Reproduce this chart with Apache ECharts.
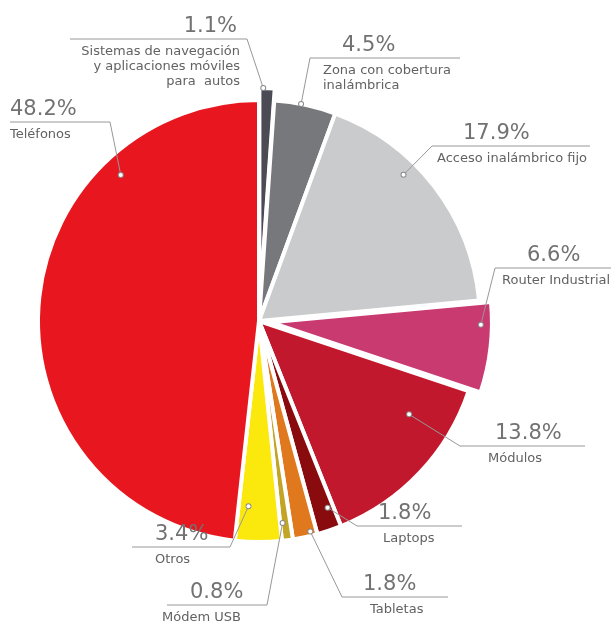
<!DOCTYPE html>
<html><head><meta charset="utf-8">
<script src="https://cdn.jsdelivr.net/npm/echarts@6/dist/echarts.min.js"></script>
<style>html,body{margin:0;padding:0;background:#fff}#c{width:611px;height:626px}</style>
</head><body><div id="c"></div>
<script>
// ---- data ----
const categories = [
  'Sistemas de navegación\ny aplicaciones móviles\npara  autos',
  'Zona con cobertura\ninalámbrica',
  'Acceso inalámbrico fijo',
  'Router Industrial',
  'Módulos',
  'Laptops',
  'Tabletas',
  'Módem USB',
  'Otros',
  'Teléfonos'
];
const shares = [1.1, 4.5, 17.9, 6.6, 13.8, 1.8, 1.8, 0.8, 3.4, 48.2];

// ---- styles ----
const colors = ['#4a4b54', '#77787c', '#cacbcd', '#c83a70', '#c1182d', '#8a0b0e', '#e0781e', '#c2a525', '#fbe90d', '#e8171f'];
const exploded = [true, false, false, true, false, false, false, false, false, false];
const dotRadius = [1.0, 1.0, 0.93, 0.95, 0.8, 0.9, 0.98, 0.92, 0.84, 0.91];
// label placement: elbowX, elbowY, lineEndX, pctX, nameX, align
const labelSpots = [
  [247, 39, 70, 237, 240, 'right'],
  [310, 58, 460, 342, 323, 'left'],
  [432, 146, 590, 463, 437, 'left'],
  [495, 268, 611, 527, 502, 'left'],
  [460, 446, 585, 495, 488, 'left'],
  [357, 526, 462, 378, 383, 'left'],
  [342, 597, 448, 363, 370, 'left'],
  [267, 605, 167, 190, 162, 'left'],
  [230, 547, 132, 155, 155, 'left'],
  [110, 122, 10, 10, 10, 'left']
];
const CX = 259, CY = 321, R = 221, OFFSET = 12;
const PCT_LH = 24, GAP_LH = 5;

const rich = { s: { fontSize: 1, lineHeight: GAP_LH } };
labelSpots.forEach((s, i) => {
  const [ex, ey, lx, px, nx, al] = s;
  const base = { fontFamily: 'DejaVu Sans' };
  const pct = { fontSize: 21, lineHeight: PCT_LH, color: '#727272' };
  const nm = { fontSize: 13, lineHeight: 15, color: '#626262' };
  if (al === 'left') {
    const x0 = Math.min(px, nx);
    rich['p' + i] = Object.assign({}, base, pct, { padding: [0, 0, 0, px - x0] });
    rich['n' + i] = Object.assign({}, base, nm, { padding: [0, 0, 0, nx - x0] });
  } else {
    const x0 = Math.max(px, nx);
    rich['p' + i] = Object.assign({}, base, pct, { align: 'right', padding: [0, x0 - px, 0, 0] });
    rich['n' + i] = Object.assign({}, base, nm, { align: 'right', padding: [0, x0 - nx, 0, 0] });
  }
});

const data = categories.map((c, i) => ({ name: c, value: shares[i], selected: exploded[i], itemStyle: { color: colors[i] } }));
const ghost = categories.map((c, i) => ({ name: c, value: shares[i] }));

const chart = echarts.init(document.getElementById('c'));

// anchor point of the leader line inside a slice, from the library's pie layout
function anchorOf(i) {
  let s, e, cx = CX, cy = CY, r = R;
  try {
    const lay = chart.getModel().getSeriesByIndex(0).getData().getItemLayout(i);
    s = lay.startAngle; e = lay.endAngle; cx = lay.cx; cy = lay.cy; r = lay.r;
  } catch (err) {
    const tot = shares.reduce((a, b) => a + b, 0);
    let acc = 0; for (let k = 0; k < i; k++) acc += shares[k];
    s = -Math.PI / 2 + acc / tot * 2 * Math.PI; e = s + shares[i] / tot * 2 * Math.PI;
  }
  if (e < s) { const t = s; s = e; e = t; }
  const [ex, ey] = labelSpots[i];
  let a = Math.atan2(ey - cy, ex - cx);
  while (a < s) a += 2 * Math.PI;
  while (a >= s + 2 * Math.PI) a -= 2 * Math.PI;
  const m = 0.25 * (e - s);
  if (a > e) { a = (a - e) < (s + 2 * Math.PI - a) ? e : s; }
  a = Math.min(Math.max(a, s + m), e - m);
  const rr = r * dotRadius[i];
  let x = cx + rr * Math.cos(a), y = cy + rr * Math.sin(a);
  if (exploded[i]) {
    const mid = (s + e) / 2;
    x += OFFSET * Math.cos(mid); y += OFFSET * Math.sin(mid);
  }
  return [x, y];
}

chart.setOption({
  animation: false,
  backgroundColor: '#fff',
  series: [
    {
      type: 'pie',
      z: 2,
      center: [CX, CY],
      radius: [0, R],
      startAngle: 90,
      clockwise: true,
      selectedMode: 'multiple',
      selectedOffset: OFFSET,
      itemStyle: { borderColor: '#fff', borderWidth: 4 },
      select: { itemStyle: { borderColor: '#fff', borderWidth: 4 } },
      emphasis: { disabled: true },
      label: { show: false },
      labelLine: { show: false },
      data: data
    },
    {
      type: 'pie',
      silent: true,
      z: 3,
      center: [CX, CY],
      radius: [0, R],
      startAngle: 90,
      clockwise: true,
      avoidLabelOverlap: false,
      itemStyle: { color: 'rgba(0,0,0,0)', borderWidth: 0 },
      emphasis: { disabled: true },
      label: {
        show: true,
        position: 'outside',
        rich: rich,
        formatter: function (p) {
          const i = p.dataIndex;
          const lines = categories[i].split('\n');
          return '{p' + i + '|' + shares[i].toFixed(1) + '%}\n{s| }\n' + lines.map(l => '{n' + i + '|' + l + '}').join('\n');
        }
      },
      labelLine: { show: true, length: 10, length2: 10, lineStyle: { color: '#989898', width: 1 } },
      labelLayout: function (params) {
        const i = params.dataIndex;
        const [ex, ey, lx, px, nx, al] = labelSpots[i];
        const x = al === 'left' ? Math.min(px, nx) : Math.max(px, nx);
        return { x: x, y: ey - PCT_LH, align: al, verticalAlign: 'top', labelLinePoints: [anchorOf(i), [ex, ey], [lx, ey]] };
      },
      data: ghost
    },
    {
      type: 'pie',
      silent: true,
      z: 4,
      center: [CX, CY],
      radius: [0, R],
      startAngle: 90,
      clockwise: true,
      avoidLabelOverlap: false,
      itemStyle: { color: 'rgba(0,0,0,0)', borderWidth: 0 },
      emphasis: { disabled: true },
      label: {
        show: true,
        position: 'outside',
        formatter: '{d| }',
        rich: { d: { width: 4, height: 4, fontSize: 1, lineHeight: 4, backgroundColor: '#fff', borderColor: '#8a8a8a', borderWidth: 1, borderRadius: 3 } }
      },
      labelLine: { show: false },
      labelLayout: function (params) {
        const pt = anchorOf(params.dataIndex);
        return { x: pt[0], y: pt[1], align: 'center', verticalAlign: 'middle' };
      },
      data: ghost
    }
  ]
});
</script>
</body></html>
